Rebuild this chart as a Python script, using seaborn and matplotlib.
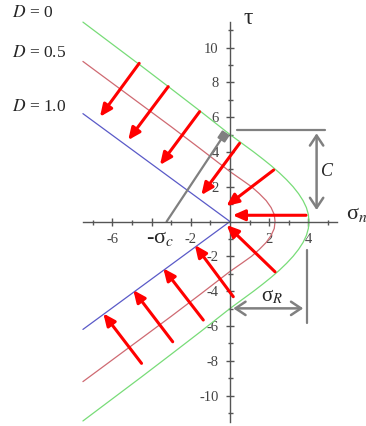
import numpy as np
import pandas as pd
import matplotlib
matplotlib.use('Agg')
import matplotlib.pyplot as plt
import seaborn as sns

# failure envelopes, upper branch (lower branch is its mirror)
sig_d0 = [-7.5, -6, -4.5, -3, -1.5, 0, 1.21, 1.67, 2.11, 2.52, 2.89, 3.22, 3.5, 3.73, 3.9, 4.0, 4.03]
tau_d0 = [11.46, 10.19, 8.92, 7.63, 6.33, 5.0, 4.0, 3.6, 3.2, 2.8, 2.4, 2.0, 1.6, 1.2, 0.8, 0.4, 0.0]
sig_d05 = [-7.5, -6, -4.5, -3, -1.5, 0, 0.6, 1.1, 1.5, 1.85, 2.1, 2.26, 2.3]
tau_d05 = [9.2, 7.95, 6.7, 5.45, 4.17, 2.87, 2.4, 2.0, 1.6, 1.2, 0.8, 0.4, 0.0]
sig_d1 = [-7.5, 0.0]
tau_d1 = [6.2, 0.0]
d_labels = ['D = 0', 'D = 0.5', 'D = 1.0']
d_colors = ['#78dc78', '#cf6a72', '#5a5ac8']

# red arrows (start -> tip)
up_sig0 = [-4.63, -3.15, -1.55, 0.49, 2.23, 3.88]
up_tau0 = [9.09, 7.75, 6.31, 4.49, 2.96, 0.36]
up_sig1 = [-6.63, -5.19, -3.57, -1.46, -0.18, 0.14]
up_tau1 = [6.02, 4.68, 3.25, 1.52, 0.89, 0.36]
lo_sig0 = [2.30, 0.17, -1.36, -2.92, -4.51]
lo_tau0 = [-2.89, -4.32, -5.66, -6.91, -8.15]
lo_sig1 = [-0.17, -1.79, -3.40, -4.93, -6.46]
lo_tau1 = [-0.20, -1.35, -2.69, -3.94, -5.28]

# cohesion / tensile strength markers
sig_c = -3.23
tangent_pt = (-0.34, 4.91)
C_level = 5.26
C_top, C_bot, C_x = 5.07, 0.66, 4.42
sR_level, sR_left, sR_right = -4.99, 0.17, 3.74

x_major = [-6, -4, -2, 2, 4]
x_major_lab = ['-6', '', '-2', '2', '4']
y_major = [-10, -8, -6, -4, -2, 2, 4, 6, 8, 10]

sns.set_style('white')
plt.rcParams['font.family'] = ['Liberation Serif', 'DejaVu Serif']
plt.rcParams['mathtext.fontset'] = 'stix'
plt.rcParams['axes.unicode_minus'] = False

# build one long table, each curve runs top-left -> vertex -> bottom-left
rows = []
for lab, s, t in zip(d_labels, [sig_d0, sig_d05, sig_d1], [tau_d0, tau_d05, tau_d1]):
    ss = list(s) + list(s[::-1])[1:]
    tt = list(t) + [-v for v in t[::-1]][1:]
    for i, (a, b) in enumerate(zip(ss, tt)):
        rows.append({'D': lab, 'sigma': a, 'tau': b, 'i': i})
env = pd.DataFrame(rows)

fig = plt.figure(figsize=(3.66, 4.26), dpi=100)
ax = fig.add_axes([0, 0, 1, 1])

sns.lineplot(data=env, x='sigma', y='tau', hue='D', palette=d_colors, sort=False,
             estimator=None, linewidth=0.9, legend=False, ax=ax)

# red arrows
for s0, t0, s1, t1 in zip(up_sig0 + lo_sig0, up_tau0 + lo_tau0, up_sig1 + lo_sig1, up_tau1 + lo_tau1):
    ax.annotate('', xy=(s1, t1), xytext=(s0, t0),
                arrowprops=dict(arrowstyle='-|>,head_length=0.45,head_width=0.2', color='#ff0000',
                                lw=2.2, mutation_scale=16, shrinkA=0, shrinkB=0))

gray = '#808080'
# radius line to tangent point
ax.plot([sig_c, tangent_pt[0]], [0, tangent_pt[1]], color=gray, lw=1.6)
ax.plot([tangent_pt[0]], [tangent_pt[1]], marker=(4, 0, 11), color=gray, markersize=8)

# C dimension
ax.plot([0.34, 4.85], [C_level, C_level], color=gray, lw=1.6)
ax.annotate('', xy=(C_x, C_bot), xytext=(C_x, C_top),
            arrowprops=dict(arrowstyle='<->,head_length=0.45,head_width=0.3', color=gray,
                            lw=1.8, mutation_scale=16, shrinkA=0, shrinkB=0))
ax.text(4.93, 2.86, 'C', fontsize=13, style='italic', ha='center', va='center')

# sigma_R dimension
ax.plot([3.94, 3.94], [-1.64, -5.85], color=gray, lw=1.6)
ax.annotate('', xy=(sR_right, sR_level), xytext=(sR_left, sR_level),
            arrowprops=dict(arrowstyle='<->,head_length=0.45,head_width=0.3', color=gray,
                            lw=1.8, mutation_scale=16, shrinkA=0, shrinkB=0))
ax.text(2.13, -4.3, 'σ$_R$', fontsize=15, ha='center', va='center')

# labels
ax.text(0.93, 11.68, 'τ', fontsize=17, ha='center', va='center')
ax.text(6.45, 0.4, 'σ$_n$', fontsize=16, ha='center', va='center')
ax.text(-3.57, -1.0, '-σ$_c$', fontsize=16, ha='center', va='center')
for lab, y in zip(d_labels, [11.97, 9.68, 6.58]):
    ax.text(-11.12, y, '$D$' + lab[1:], fontsize=12.5, ha='left', va='center')

# axes through the origin
ax.set_xlim(-11.73, 6.94)
ax.set_ylim(-11.75, 12.73)
for side in ['top', 'right']:
    ax.spines[side].set_visible(False)
ax.spines['left'].set_position(('data', 0))
ax.spines['bottom'].set_position(('data', 0))
ax.spines['left'].set_bounds(-11.5, 11.45)
ax.spines['bottom'].set_bounds(-7.5, 5.45)
for side in ['left', 'bottom']:
    ax.spines[side].set_color('#555555')
    ax.spines[side].set_linewidth(1.0)

ax.set_xticks(x_major)
ax.set_xticklabels(x_major_lab)
ax.set_xticks([-7, -5, -3, -1, 1, 3, 5], minor=True)
ax.set_yticks(y_major)
ax.set_yticklabels([str(v) for v in y_major])
ax.set_yticks([-11, -9, -7, -5, -3, -1, 1, 3, 5, 7, 9, 11], minor=True)
ax.tick_params(which='both', bottom=True, left=True, top=False, right=False)
ax.tick_params(which='major', direction='inout', length=6, width=1.0, color='#555555',
               labelsize=10.5, labelcolor='#444444', pad=5)
ax.tick_params(which='minor', direction='inout', length=3.6, width=1.0, color='#555555')
ax.set_xlabel('')
ax.set_ylabel('')
ax.set_facecolor('white')

fig.savefig('out.png', dpi=100)
